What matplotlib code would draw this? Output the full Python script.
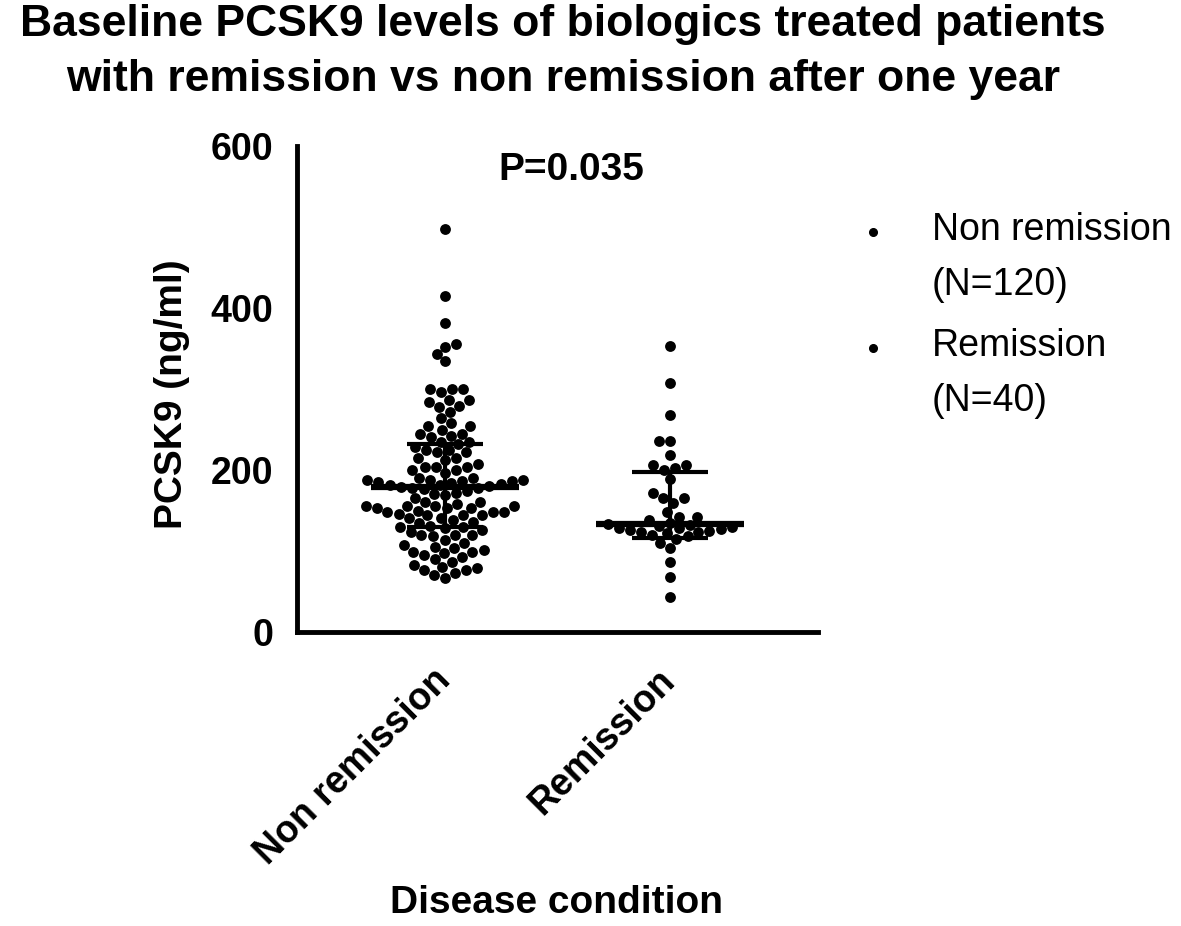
import matplotlib
matplotlib.use("Agg")
import matplotlib.pyplot as plt
import pandas as pd
import seaborn as sns

# Valores (PCSK9 em ng/ml)
groups = ["Non remission", "Remission"]

non_remission = [
    498, 415, 382, 356, 352, 343, 334, 300, 300, 300,
    296, 286, 286, 284, 279, 278, 272, 264, 258, 254,
    254, 250, 245, 245, 242, 241, 235, 235, 232, 228,
    225, 225, 222, 222, 215, 215, 212, 208, 204, 204,
    204, 200, 200, 196, 190, 190, 188, 188, 188, 186,
    186, 185, 184, 183, 182, 181, 180, 179, 178, 178,
    177, 174, 172, 170, 169, 165, 161, 161, 158, 155,
    155, 155, 155, 153, 153, 153, 150, 148, 148, 148,
    146, 144, 144, 144, 141, 141, 138, 136, 134, 131,
    130, 130, 128, 126, 124, 120, 120, 120, 118, 114,
    110, 107, 105, 104, 101, 99, 99, 97, 95, 93,
    90, 87, 83, 80, 79, 77, 76, 73, 70, 67,
]

remission = [
    353, 307, 268, 236, 236, 218, 206, 206, 203, 200,
    189, 171, 165, 165, 159, 148, 142, 142, 138, 135,
    133, 132, 131, 130, 129, 128, 127, 126, 125, 124,
    123, 122, 120, 118, 115, 110, 104, 86, 68, 43,
]

# Mediana e intervalo interquartil desenhados no gráfico
medians = [179, 133]
q1 = [130, 116]
q3 = [232, 198]

p_text = "P=0.035"
title = ("Baseline PCSK9 levels of biologics treated patients\n"
         "with remission vs non remission after one year")

table = pd.DataFrame({
    "group": [groups[0]] * len(non_remission) + [groups[1]] * len(remission),
    "pcsk9": non_remission + remission,
})

sns.set_style("white")
plt.rcParams['font.family'] = ['Liberation Sans', 'DejaVu Sans']
plt.rcParams['text.color'] = 'black'
plt.rcParams['axes.labelcolor'] = 'black'
plt.rcParams['xtick.color'] = 'black'
plt.rcParams['ytick.color'] = 'black'

fig = plt.figure(figsize=(11.81, 9.26), dpi=100)
ax = fig.add_axes([297 / 1181, 1 - 632 / 926, 521 / 1181, 486 / 926])

sns.swarmplot(data=table, x="group", y="pcsk9", order=groups,
              color="black", size=7.8, ax=ax, zorder=2)

# Mediana e barras do IQR
for i in range(len(groups)):
    ax.hlines(medians[i], i - 0.33, i + 0.33, color="black", lw=4.5, zorder=3)
    ax.vlines(i, q1[i], q3[i], color="black", lw=3, zorder=3)
    ax.hlines([q1[i], q3[i]], i - 0.168, i + 0.168, color="black", lw=3, zorder=3)

ax.set_xlim(-0.658, 1.658)
ax.set_ylim(0, 600)
ax.set_yticks([0, 200, 400, 600])
ax.set_xticks(range(len(groups)))
ax.set_xticklabels(groups, rotation=45, ha="right", va="center",
                   rotation_mode="anchor", fontsize=27, fontweight="bold")
for lab in ax.get_yticklabels():
    lab.set_fontsize(27)
    lab.set_fontweight("bold")
ax.tick_params(axis="both", direction="out", length=15, width=3, color="black",
               labelcolor="black")
ax.tick_params(axis="y", pad=2)
ax.tick_params(axis="x", pad=16)
ax.set_xlabel("")
ax.set_ylabel("")

for side in ["top", "right"]:
    ax.spines[side].set_visible(False)
for side in ["left", "bottom"]:
    ax.spines[side].set_linewidth(3.5)
    ax.spines[side].set_color("black")

ax.text(0.56, 570, p_text, ha="center", va="center", fontsize=28, fontweight="bold")

fig.text(172 / 1181, 1 - 394 / 926, "PCSK9 (ng/ml)", rotation=90, ha="center",
         va="center", fontsize=28, fontweight="bold")
fig.text(557 / 1181, 1 - 903 / 926, "Disease condition", ha="center",
         va="center", fontsize=28, fontweight="bold")
fig.text(563 / 1181, 0.996, title, ha="center", va="top", fontsize=32,
         fontweight="bold", linespacing=1.45)

# Legenda manual: ponto + texto com N
counts = [len(non_remission), len(remission)]
legend_y = [232, 348]
for name, n, y in zip(groups, counts, legend_y):
    ax.plot([873 / 1181], [1 - y / 926], "o", color="black", ms=5.5,
            transform=fig.transFigure, clip_on=False)
    fig.text(932 / 1181, 1 - (y - 20) / 926, f"{name}\n(N={n})", ha="left",
             va="top", fontsize=27, linespacing=1.68)

fig.savefig("out.png", dpi=100)
